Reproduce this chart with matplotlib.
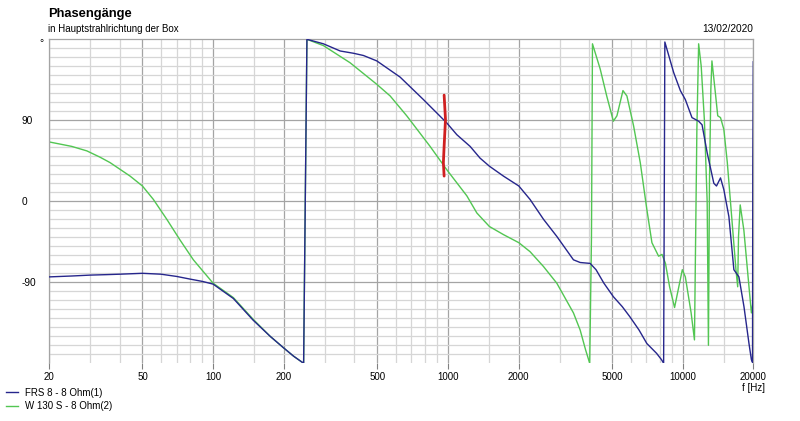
import matplotlib
matplotlib.use('Agg')
import matplotlib.pyplot as plt
from matplotlib.ticker import FixedLocator, NullFormatter

plt.rcParams['font.family'] = ['Liberation Sans', 'DejaVu Sans']

# FRS 8 - 8 Ohm(1), phase in degrees
frs_f = [20, 25, 30, 35, 40, 50, 60, 70, 80, 90, 100, 122, 148, 175, 200, 220, 243, 251,
         295, 348, 396, 437, 498, 626, 787, 990, 1092, 1244, 1371, 1503, 1725, 2006,
         2240, 2555, 2911, 3427, 3660, 4037, 4277, 4620, 5070, 5530, 5950, 6520,
         7040, 7750, 8130, 8300, 8400, 9160, 9780, 10270, 10960, 11700, 12100,
         12720, 13580, 13940, 14500, 14980, 15740, 16530, 17370, 18250, 19170,
         19630, 19850, 19900, 20000]
frs_ph = [-84, -83, -82, -81.5, -81, -80, -81, -83.5, -86.5, -89, -92, -108, -132, -150, -163, -172, -180, 180,
          175, 167, 164.5, 162, 156, 138, 113, 87, 74, 61, 48, 39, 28, 17,
          2, -20, -39, -65, -68, -69, -76, -91, -106, -117, -128, -143,
          -158, -169, -176, -180, 177, 143, 123, 113, 93, 89, 85,
          54, 20, 17, 26, 13, -17, -76, -84, -117, -158,
          -176, -179, 32, 155]

# W 130 S - 8 Ohm(2)
w130_f = [20, 25, 29, 33, 36.4, 44.3, 50, 55.7, 63.5, 72.3, 82.4, 100, 122, 148, 175, 200, 220,
          243, 251, 295, 383, 498, 568, 668, 840, 990, 1205, 1329, 1503, 1725, 2006,
          2240, 2555, 2911, 3427, 3660, 3860, 4020, 4090, 4130, 4455, 4750, 5070,
          5250, 5570, 5790, 6180, 6600, 7040, 7400, 7900, 8170, 8450, 8800, 9240,
          9970, 10270, 10870, 11230, 11500, 11700, 12000, 12380, 12720, 12880,
          13010, 13190, 13330, 13780, 14110, 14500, 14980, 15500, 16350, 16870,
          17160, 17300, 17590, 18230, 19170, 19630, 20000]
w130_ph = [66, 61, 56, 49, 43, 28, 17, 2, -20, -43, -65, -91, -107, -131, -150, -163, -172,
           -180, 180, 173, 154, 130, 117, 95, 61, 35, 6, -13, -28, -37, -46,
           -56, -72.5, -91, -124, -143, -165, -180, -40, 175, 147, 117, 89,
           95, 123, 117, 84, 43, -9, -46, -61, -59, -69, -95, -118,
           -76, -84, -124, -154, 80, 175, 150, 90, 0, -160,
           20, 125, 156, 121, 95, 93, 80, 43, -32, -76,
           -95, -39, -4, -32, -95, -124, -110]

# hand drawn red mark near 1 kHz
mark_f = [964, 977, 964, 957, 964]
mark_ph = [118, 91, 61, 43, 28]

major_f = [20, 50, 100, 200, 500, 1000, 2000, 5000, 10000, 20000]
minor_f = [30, 40, 60, 70, 80, 90, 150, 300, 400, 600, 700, 800, 900, 1500,
           3000, 4000, 6000, 7000, 8000, 9000, 15000]
major_ph = [-90, 0, 90]

W, H = 800, 421
fig = plt.figure(figsize=(W / 100, H / 100), dpi=100)
ax = fig.add_axes([49 / W, 1 - 363.3 / H, (753.3 - 49) / W, (363.3 - 39.3) / H])

l1, = ax.plot(frs_f, frs_ph, color='#26268c', lw=1.0, zorder=3)
l2, = ax.plot(w130_f, w130_ph, color='#52c652', lw=1.0, zorder=2)
ax.plot(mark_f, mark_ph, color='#d02020', lw=2.0, zorder=4, solid_capstyle='round')

ax.set_xscale('log')
ax.set_xlim(20, 20000)
ax.set_ylim(-180, 180)

ax.xaxis.set_major_locator(FixedLocator(major_f))
ax.xaxis.set_minor_locator(FixedLocator(minor_f))
ax.xaxis.set_minor_formatter(NullFormatter())
ax.set_xticklabels([str(f) for f in major_f])
ax.yaxis.set_major_locator(FixedLocator(major_ph))
ax.yaxis.set_minor_locator(FixedLocator([p for p in range(-170, 180, 10) if p not in major_ph]))
ax.set_yticklabels([str(p) for p in major_ph])

ax.grid(which='major', color='#a4a4a4', lw=0.9, zorder=0)
ax.grid(which='minor', color='#d6d6d6', lw=0.9, zorder=0)
ax.set_axisbelow(True)

ax.tick_params(axis='x', which='major', length=4, color='#808080', labelsize=7, pad=2)
ax.tick_params(axis='x', which='minor', length=0)
ax.tick_params(axis='y', which='both', length=0, labelsize=7.3, pad=20)
for lab in ax.get_yticklabels():
    lab.set_horizontalalignment('left')

for s in ['top', 'left', 'right']:
    ax.spines[s].set_color('#a4a4a4')
    ax.spines[s].set_linewidth(0.9)
ax.spines['bottom'].set_visible(False)

fig.text(48 / W, 1 - 14 / H, 'Phasengänge', fontsize=9.3, fontweight='bold', va='center')
fig.text(48 / W, 1 - 29 / H, 'in Hauptstrahlrichtung der Box', fontsize=7, va='center')
fig.text(753 / W, 1 - 29 / H, '13/02/2020', fontsize=7.3, va='center', ha='right')
fig.text(41 / W, 1 - 43 / H, '°', fontsize=7.5, va='center', ha='center')
fig.text(753 / W, 1 - 388 / H, 'f [Hz]', fontsize=7, va='center', ha='center')

fig.legend([l1, l2], ['FRS 8 - 8 Ohm(1)', 'W 130 S - 8 Ohm(2)'], loc='upper left',
           bbox_to_anchor=(6 / W, 1 - 387.5 / H), frameon=False, fontsize=7,
           handlelength=1.2, handletextpad=0.8, labelspacing=0.4,
           borderpad=0, borderaxespad=0)

fig.savefig('out.png', dpi=100)
